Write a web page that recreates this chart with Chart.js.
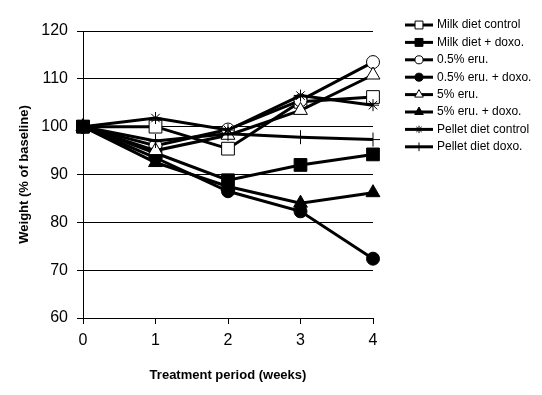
<!DOCTYPE html>
<html>
<head>
<meta charset="utf-8">
<script src="https://cdn.jsdelivr.net/npm/chart.js@4/dist/chart.umd.min.js"></script>
<style>
  html, body { margin: 0; padding: 0; background: #fff; }
  #wrap { width: 542px; height: 395px; position: relative; }
</style>
</head>
<body>
<div id="wrap"><canvas id="c" width="542" height="395"></canvas></div>
<script>
const weeks = [0, 1, 2, 3, 4];
const seriesNames = ["Milk diet control", "Milk diet + doxo.", "0.5% eru.", "0.5% eru. + doxo.", "5% eru.", "5% eru. + doxo.", "Pellet diet control", "Pellet diet doxo."];
const milkControl   = [100, 100, 95.4, 105.2, 106.2];
const milkDoxo      = [100, 94.5, 88.8, 92, 94.2];
const eru05         = [100, 96, 99.4, 105.5, 113.5];
const eru05Doxo     = [100, 93.5, 86.5, 82.3, 72.4];
const eru5          = [100, 95, 98.2, 103.4, 110.8];
const eru5Doxo      = [100, 92.5, 87.5, 84, 86.2];
const pelletControl = [100, 101.8, 99.3, 106.5, 104.5];
const pelletDoxo    = [100, 97, 98.5, 97.8, 97.3];
const yTicks = [60, 70, 80, 90, 100, 110, 120];

const seriesValues = [milkControl, milkDoxo, eru05, eru05Doxo, eru5, eru5Doxo, pelletControl, pelletDoxo];
const styles = [
  {ps: 'rect', r: 9, fill: '#fff', bw: 1},
  {ps: 'rect', r: 9, fill: '#000', bw: 1},
  {ps: 'circle', r: 6.5, fill: '#fff', bw: 1},
  {ps: 'circle', r: 6.5, fill: '#000', bw: 1},
  {ps: 'triangle', r: 8, fill: '#fff', bw: 1},
  {ps: 'triangle', r: 8, fill: '#000', bw: 1},
  {ps: 'star', r: 6, fill: '#000', bw: 1},
  {ps: 'cross', r: 7, fill: '#000', bw: 1}
];

const datasets = seriesNames.map((name, i) => ({
  label: name,
  data: weeks.map((w, j) => ({x: w, y: seriesValues[i][j]})),
  borderColor: '#000',
  borderWidth: 3,
  pointStyle: styles[i].ps,
  pointRadius: styles[i].r,
  pointBackgroundColor: styles[i].fill,
  pointBorderColor: '#000',
  pointBorderWidth: styles[i].bw,
  tension: 0,
  fill: false,
  clip: false,
  order: -i
}));

const legendPlugin = {
  id: 'customLegend',
  afterDraw(chart) {
    const ctx = chart.ctx;
    ctx.save();
    ctx.font = '12px "Liberation Sans", Arial, sans-serif';
    ctx.fillStyle = '#000';
    ctx.textBaseline = 'middle';
    ctx.textAlign = 'left';
    seriesNames.forEach((name, i) => {
      const y = 25 + i * 17.4;
      ctx.strokeStyle = '#000';
      ctx.lineWidth = 3;
      ctx.beginPath();
      ctx.moveTo(405, y);
      ctx.lineTo(433, y);
      ctx.stroke();
      ctx.fillStyle = styles[i].fill;
      ctx.strokeStyle = '#000';
      ctx.lineWidth = 1;
      Chart.helpers.drawPoint(ctx, {pointStyle: styles[i].ps, radius: styles[i].r * 0.62, rotation: 0, borderWidth: 1}, 419, y);
      ctx.fillStyle = '#000';
      ctx.fillText(name, 437, y);
    });
    ctx.restore();
  }
};

new Chart(document.getElementById('c'), {
  type: 'line',
  data: { datasets },
  plugins: [legendPlugin],
  options: {
    responsive: false,
    animation: false,
    layout: { padding: { top: 31, right: 169, left: 0, bottom: 0 } },
    plugins: { legend: { display: false }, tooltip: { enabled: false } },
    scales: {
      x: {
        type: 'linear',
        min: 0, max: 4,
        afterFit(s) { s.height = 77; },
        afterBuildTicks(s) { s.ticks = weeks.map(v => ({value: v})); },
        ticks: { color: '#000', padding: 7, font: { family: '"Liberation Sans", Arial, sans-serif', size: 16 } },
        grid: { drawOnChartArea: false, drawTicks: true, tickLength: 6, color: '#000', lineWidth: 1 },
        border: { display: true, color: '#000', width: 1 },
        title: { display: true, text: 'Treatment period (weeks)', color: '#000', padding: { top: 0, bottom: 12 }, font: { family: '"Liberation Sans", Arial, sans-serif', size: 13, weight: 'bold' } }
      },
      y: {
        type: 'linear',
        min: 60, max: 120,
        afterFit(s) { s.width = 83; },
        afterBuildTicks(s) { s.ticks = yTicks.map(v => ({value: v})); },
        ticks: { color: '#000', padding: 9, font: { family: '"Liberation Sans", Arial, sans-serif', size: 16 } },
        grid: { drawOnChartArea: true, drawTicks: true, tickLength: 6, color: '#000', lineWidth: 1 },
        border: { display: true, color: '#000', width: 1 },
        title: { display: true, text: 'Weight (% of baseline)', color: '#000', padding: { top: 17, bottom: 0 }, font: { family: '"Liberation Sans", Arial, sans-serif', size: 13, weight: 'bold' } }
      }
    }
  }
});
</script>
</body>
</html>
